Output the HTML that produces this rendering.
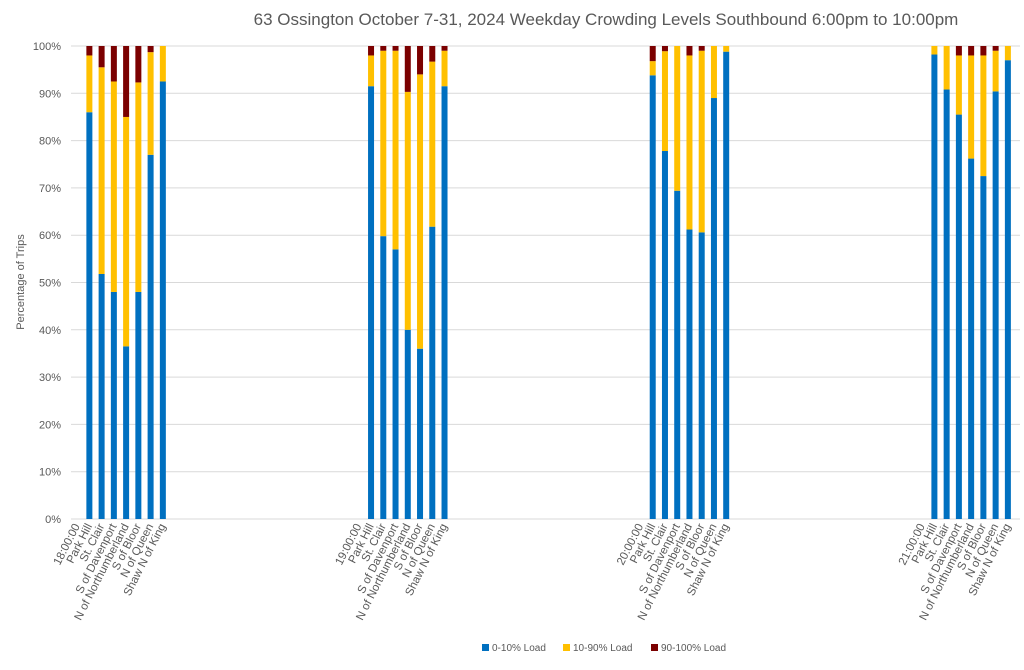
<!DOCTYPE html>
<html><head><meta charset="utf-8"><style>
body{margin:0;background:#fff;font-family:"Liberation Sans",sans-serif;}
svg text{font-family:"Liberation Sans",sans-serif;}
</style></head><body>
<svg id="chart" width="1024" height="665" xmlns="http://www.w3.org/2000/svg">
<text x="606" y="25" font-size="17" fill="#595959" text-anchor="middle">63 Ossington October 7-31, 2024  Weekday Crowding Levels Southbound 6:00pm to 10:00pm</text>
<text transform="translate(24,282) rotate(-90)" font-size="11" fill="#595959" text-anchor="middle">Percentage of Trips</text>
<g id="grid"></g><g id="bars"></g><g id="xlabels"></g>
<g font-size="10" fill="#595959">
<rect x="482" y="644" width="7" height="7" fill="#0070c0"/><text x="492" y="651">0-10% Load</text>
<rect x="563" y="644" width="7" height="7" fill="#ffc000"/><text x="573" y="651">10-90% Load</text>
<rect x="651" y="644" width="7" height="7" fill="#7b0000"/><text x="661" y="651">90-100% Load</text>
</g>
</svg>
<script>
const hours=["18:00:00","19:00:00","20:00:00","21:00:00"];
const stops=["Park Hill","St. Clair","S of Davenport","N of Northumberland","S of Bloor","N of Queen","Shaw N of King"];
const low18=[86,51.8,48,36.5,48,77,92.5];
const mid18top=[98,95.5,92.5,85,92.3,98.7,100];
const low19=[91.5,59.8,57,40,36,61.8,91.5];
const mid19top=[98,99,99,90.3,94,96.7,99];
const low20=[93.8,77.8,69.4,61.2,60.6,89,98.8];
const mid20top=[96.8,98.9,100,98,99,100,100];
const low21=[98.2,90.8,85.5,76.2,72.5,90.4,97];
const mid21top=[100,100,98,98,98,99,100];
const yTicks=[0,10,20,30,40,50,60,70,80,90,100];
const lows=[low18,low19,low20,low21], tops=[mid18top,mid19top,mid20top,mid21top];
const NS="http://www.w3.org/2000/svg";
const L=71,R=1014,T=46,B=519,N=77,cw=(R-L)/N,groupStride=23;
const y=v=>B-(B-T)*v/100;
const x=i=>L+cw*(i+0.5);
function mk(tag,attrs,parent){const e=document.createElementNS(NS,tag);for(const k in attrs)e.setAttribute(k,attrs[k]);parent.appendChild(e);return e;}
const grid=document.getElementById('grid'),bars=document.getElementById('bars'),xl=document.getElementById('xlabels');
yTicks.forEach(t=>{
 const ln=mk('line',{x1:L,x2:1020,y1:y(t),y2:y(t),stroke:'#d9d9d9','stroke-width':1},grid);
 
 
 const tx=mk('text',{x:L-10,y:y(t)+4,'font-size':11,fill:'#595959','text-anchor':'end'},grid);
 tx.textContent=t+'%';
 
 
});
function label(i,s){
 const tx=mk('text',{transform:`translate(${x(i)+3},${B+7}) rotate(-63)`,'font-size':11.5,fill:'#595959','text-anchor':'end'},xl);
 tx.textContent=s;
 
 
}
hours.forEach((h,g)=>{
 const base=g*groupStride;
 label(base,h);
 stops.forEach((s,j)=>{
  const i=base+1+j,cx=x(i),w=6;
  label(i,s);
  const lo=lows[g][j],tp=tops[g][j];
  const segs=[[0,lo,'#0070c0','bar-low'],[lo,tp,'#ffc000','bar-mid'],[tp,100,'#7b0000','bar-high']];
  segs.forEach(([a,b,c,n])=>{
   if(b<=a)return;
   const r=mk('rect',{x:cx-w/2,y:y(b),width:w,height:y(a)-y(b),fill:c},bars);
   
   
  });
 });
});
</script>
</body></html>
